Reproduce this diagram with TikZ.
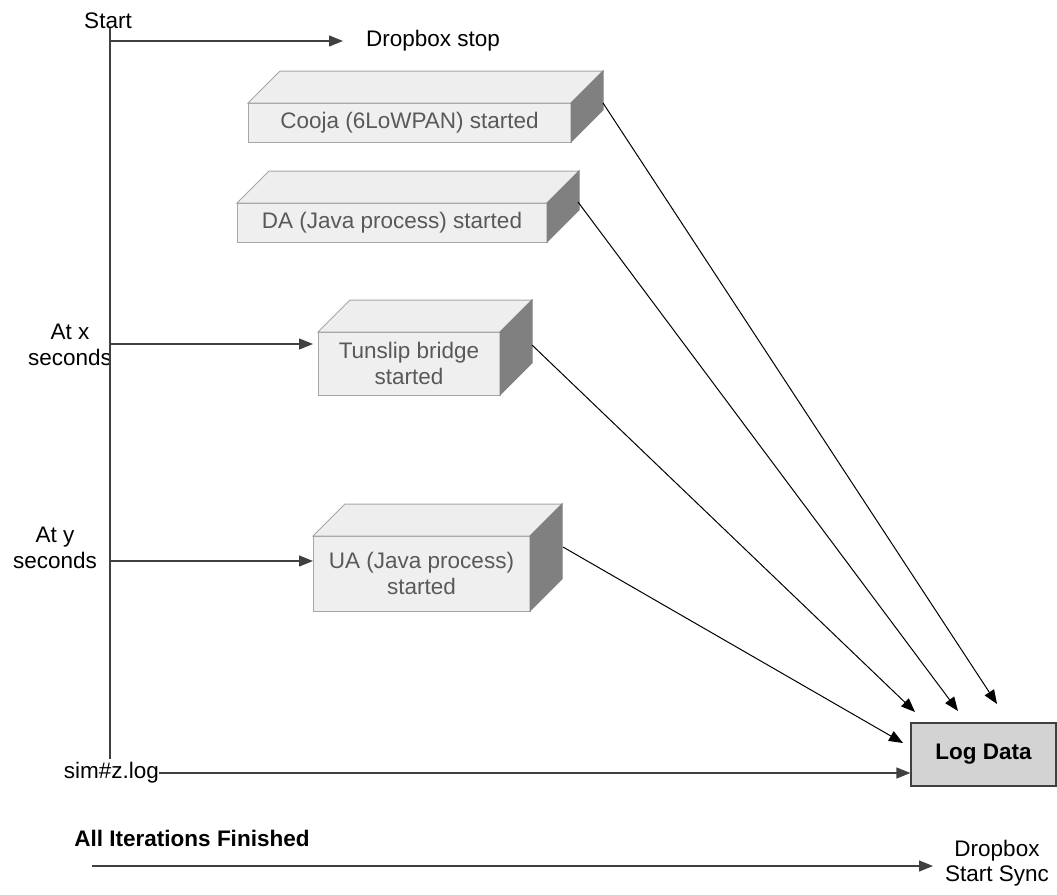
\documentclass[tikz,border=0pt]{standalone}
\usepackage{fontspec}
\setmainfont{Liberation Sans}
\usetikzlibrary{arrows.meta}

\definecolor{boxfront}{HTML}{EFEFEF}
\definecolor{boxtop}{HTML}{EEEEEE}
\definecolor{boxside}{HTML}{808080}
\definecolor{boxedge}{HTML}{A6A6A6}
\definecolor{boxtext}{HTML}{595959}
\definecolor{logfill}{HTML}{D3D3D3}
\definecolor{lineclr}{HTML}{404040}

\tikzset{
  cube/.style={rectangle, fill=boxfront, draw=boxedge, line width=1pt,
    text=boxtext, align=center, outer sep=0pt, inner sep=0pt},
  lbl/.style={align=center, inner sep=2pt},
  tl/.style={draw=lineclr, line width=1.2pt},
  flow/.style={draw=lineclr, line width=1.2pt, -{Triangle[length=14pt,width=11pt]}},
  feed/.style={draw=black, line width=1pt, -{Triangle[length=14pt,width=11pt]}},
}

% top and right faces of a box node
\newcommand\cubefaces[1]{%
  \filldraw[fill=boxtop, draw=boxedge, line width=1pt]
    (#1.north west) -- ([shift={(32pt,32pt)}]#1.north west)
    -- ([shift={(32pt,32pt)}]#1.north east) -- (#1.north east) -- cycle;
  \filldraw[fill=boxside, draw=boxside, line width=1pt]
    (#1.north east) -- ([shift={(32pt,32pt)}]#1.north east)
    -- ([shift={(32pt,32pt)}]#1.south east) -- (#1.south east) -- cycle;}

\begin{document}
\begin{tikzpicture}[x=1pt, y=-1pt, font=\fontsize{22.5}{25.5}\selectfont]
\useasboundingbox (0,0) rectangle (1057,894);

% process boxes
\node[cube, anchor=north west, minimum width=323pt, minimum height=39pt] (cooja) at (248,103) {Cooja (6LoWPAN) started};
\cubefaces{cooja}
\node[cube, anchor=north west, minimum width=310pt, minimum height=39pt] (da) at (237,203) {DA (Java process) started};
\cubefaces{da}
\node[cube, anchor=north west, minimum width=182pt, minimum height=63pt] (tun) at (318,332) {Tunslip bridge\\started};
\cubefaces{tun}
\node[cube, anchor=north west, minimum width=217pt, minimum height=75pt] (ua) at (313,536) {UA (Java process)\\started};
\cubefaces{ua}

% log sink
\node[rectangle, fill=logfill, draw=lineclr, line width=1.2pt, minimum width=145pt, minimum height=63pt, font=\fontsize{22.5}{25.5}\selectfont\bfseries] (log) at (983.5,754.5) {Log Data};

% labels
\node[lbl] (start) at (108,21) {Start};
\node[lbl, anchor=west] (dstop) at (364,41) {Dropbox stop};
\node[lbl] (atx) at (70,345) {At x\\seconds};
\node[lbl] (aty) at (55,548) {At y\\seconds};
\node[lbl, anchor=east, inner sep=0pt] (sim) at (159,773) {sim\#z.log};
\node[lbl, font=\fontsize{22.5}{25.5}\selectfont\bfseries] (done) at (192,838) {All Iterations Finished};
\node[lbl] (dsync) at (997,863) {Dropbox\\Start Sync};

% time line
\coordinate (t0) at (110,28);
\coordinate (t1) at (110,759);
\coordinate (tstop) at (110,41);
\coordinate (tx) at (110,344);
\coordinate (ty) at (110,561);
\draw[tl] (t0) -- (t1);
\draw[flow] (tstop) -- ([xshift=-21pt]dstop.west |- tstop);
\draw[flow, shorten >=5pt] (tx) -- (tun.west |- tx);
\draw[flow] (ty) -- (ua.west |- ty);
\draw[flow] (sim.east) -- (log.west |- sim.east);

% bottom run
\coordinate (b0) at (92,866);
\coordinate (b1) at (933,866);
\draw[flow] (b0) -- (b1);

% feeds into the log
\coordinate (cs) at (603,103);
\coordinate (ds) at (578,202);
\coordinate (ts) at (532,345);
\coordinate (us) at (563,547);
\coordinate (ce) at (997,704);
\coordinate (de) at (958,711);
\coordinate (te) at (915,712);
\coordinate (ue) at (903,743);
\draw[feed] (cs) -- (ce);
\draw[feed] (ds) -- (de);
\draw[feed] (ts) -- (te);
\draw[feed] (us) -- (ue);
\end{tikzpicture}
\end{document}
